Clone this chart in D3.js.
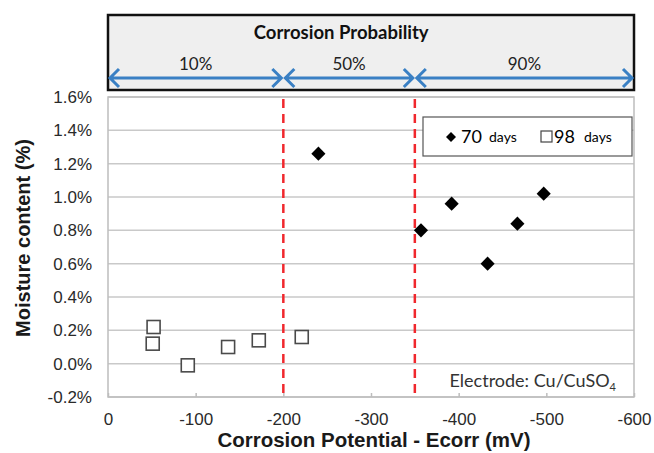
<!DOCTYPE html>
<html>
<head>
<meta charset="utf-8">
<script src="https://cdn.jsdelivr.net/npm/d3@7"></script>
<style>
  body { margin: 0; background: #fff; }
  svg { display: block; }
</style>
</head>
<body>
<svg width="654" height="453"></svg>
<script>
var canvas = d3.select("svg");

var margin = { top: 97, right: 20, bottom: 56, left: 108 };
var iInnerWidth = 634 - margin.left;
var iInnerHeight = 397 - margin.top;

// data
var days70X = [-240, -357, -392, -433, -467, -497];
var days70Y = [1.26, 0.80, 0.96, 0.60, 0.84, 1.02];
var days98X = [-52, -51, -91, -137, -172, -221];
var days98Y = [0.22, 0.12, -0.01, 0.10, 0.14, 0.16];
var yTicks = [-0.2, 0, 0.2, 0.4, 0.6, 0.8, 1.0, 1.2, 1.4, 1.6];
var xTicks = [0, -100, -200, -300, -400, -500, -600];
var zoneBounds = [0, -200, -350, -600];
var zoneLabels = ["10%", "50%", "90%"];

var colorGrid = "#c9c9c9";
var colorRed = "#f0282d";
var colorBlue = "#3a80c4";
var arial = "Liberation Sans, Arial, sans-serif";
var calibri = "Lato, sans-serif";

var xScale = d3.scaleLinear().domain([0, -600]).range([0, iInnerWidth]);
var yScale = d3.scaleLinear().domain([-0.2, 1.6]).range([iInnerHeight, 0]);

var parentGroup = canvas.append("g")
    .attr("transform", `translate(${margin.left},${margin.top})`);

// gridlines
parentGroup.append("g")
    .selectAll("line")
    .data(yTicks)
    .enter()
    .append("line")
    .attr("x1", 0)
    .attr("x2", iInnerWidth)
    .attr("y1", d => yScale(d))
    .attr("y2", d => yScale(d))
    .attr("stroke", colorGrid)
    .attr("stroke-width", 1.5);

// plot frame
parentGroup.append("rect")
    .attr("width", iInnerWidth)
    .attr("height", iInnerHeight)
    .attr("fill", "none")
    .attr("stroke", "#bdbdbd")
    .attr("stroke-width", 1.5);

// y axis
var yAxis = parentGroup.append("g")
    .call(d3.axisLeft(yScale).tickValues(yTicks).tickSize(0).tickPadding(16)
        .tickFormat(d => (d < 0 ? "-" : "") + Math.abs(d).toFixed(1) + "%"));
yAxis.select(".domain").remove();
yAxis.attr("font-family", arial).attr("font-size", 17);
yAxis.selectAll("text").attr("fill", "#2a2a2a");

// x axis
var xAxis = parentGroup.append("g")
    .attr("transform", `translate(0,${iInnerHeight})`)
    .call(d3.axisBottom(xScale).tickValues(xTicks).tickSize(-4).tickPadding(16)
        .tickFormat(d => String(d)));
xAxis.select(".domain").remove();
xAxis.attr("font-family", arial).attr("font-size", 17);
xAxis.selectAll("line").attr("stroke", "#bdbdbd").attr("stroke-width", 1.5);
xAxis.selectAll("text").attr("fill", "#2a2a2a");

// red dashed zone boundaries
parentGroup.append("g")
    .selectAll("line")
    .data(zoneBounds.slice(1, 3))
    .enter()
    .append("line")
    .attr("x1", d => xScale(d))
    .attr("x2", d => xScale(d))
    .attr("y1", 2)
    .attr("y2", iInnerHeight)
    .attr("stroke", colorRed)
    .attr("stroke-width", 2.5)
    .attr("stroke-dasharray", "9,6");

// 98 days squares
parentGroup.append("g")
    .selectAll("rect")
    .data(days98X)
    .enter()
    .append("rect")
    .attr("x", d => xScale(d) - 6.5)
    .attr("y", (d, i) => yScale(days98Y[i]) - 6.5)
    .attr("width", 13)
    .attr("height", 13)
    .attr("fill", "#fff")
    .attr("stroke", "#4a4a4a")
    .attr("stroke-width", 1.6);

// 70 days diamonds
var diamond = d3.symbol().type(d3.symbolSquare).size(100);
parentGroup.append("g")
    .selectAll("path")
    .data(days70X)
    .enter()
    .append("path")
    .attr("d", diamond)
    .attr("transform", (d, i) => `translate(${xScale(d)},${yScale(days70Y[i])}) rotate(45)`)
    .attr("fill", "#000");

// legend
var legend = parentGroup.append("g").attr("transform", "translate(315,20)");
legend.append("rect")
    .attr("width", 209)
    .attr("height", 39)
    .attr("fill", "#fff")
    .attr("stroke", "#555")
    .attr("stroke-width", 1.2);
legend.append("path")
    .attr("d", d3.symbol().type(d3.symbolSquare).size(50))
    .attr("transform", "translate(28,20) rotate(45)")
    .attr("fill", "#000");
legend.append("text").attr("x", 38).attr("y", 26)
    .attr("font-family", calibri).attr("font-size", 18).text("70");
legend.append("text").attr("x", 66).attr("y", 25)
    .attr("font-family", calibri).attr("font-size", 14).text("days");
legend.append("rect")
    .attr("x", 118).attr("y", 14).attr("width", 11).attr("height", 11)
    .attr("fill", "#fff").attr("stroke", "#444").attr("stroke-width", 1.2);
legend.append("text").attr("x", 131).attr("y", 26)
    .attr("font-family", calibri).attr("font-size", 18).text("98");
legend.append("text").attr("x", 161).attr("y", 25)
    .attr("font-family", calibri).attr("font-size", 14).text("days");

// electrode note
var note = parentGroup.append("text")
    .attr("x", iInnerWidth - 18)
    .attr("y", iInnerHeight - 10)
    .attr("text-anchor", "end")
    .attr("font-family", calibri)
    .attr("font-size", 18)
    .attr("fill", "#333");
note.append("tspan").text("Electrode: Cu/CuSO");
note.append("tspan").attr("font-size", 11).attr("dy", 4).text("4");

// axis titles
canvas.append("text")
    .attr("transform", `translate(30,${margin.top + iInnerHeight / 2 - 9}) rotate(-90)`)
    .attr("text-anchor", "middle")
    .attr("font-family", arial)
    .attr("font-weight", "bold")
    .attr("font-size", 20)
    .attr("fill", "#1a1a1a")
    .text("Moisture content (%)");

canvas.append("text")
    .attr("x", margin.left + iInnerWidth / 2 + 3)
    .attr("y", 447)
    .attr("text-anchor", "middle")
    .attr("font-family", arial)
    .attr("font-weight", "bold")
    .attr("font-size", 20.5)
    .attr("fill", "#1a1a1a")
    .text("Corrosion Potential - Ecorr (mV)");

// corrosion probability box
var topBox = canvas.append("g").attr("transform", `translate(${margin.left},15)`);
topBox.append("rect")
    .attr("width", iInnerWidth)
    .attr("height", 75)
    .attr("fill", "#efefef")
    .attr("stroke", "#111")
    .attr("stroke-width", 2.5);
topBox.append("text")
    .attr("x", xScale(-266))
    .attr("y", 24)
    .attr("text-anchor", "middle")
    .attr("font-family", calibri)
    .attr("font-weight", "bold")
    .attr("font-size", 18.5)
    .attr("fill", "#111")
    .text("Corrosion Probability");

var zones = zoneLabels.map((l, i) => ({ label: l, from: zoneBounds[i], to: zoneBounds[i + 1] }));
topBox.selectAll(".zoneLabel")
    .data(zones)
    .enter()
    .append("text")
    .attr("x", d => xScale((d.from + d.to) / 2))
    .attr("y", 55)
    .attr("text-anchor", "middle")
    .attr("font-family", calibri)
    .attr("font-size", 17)
    .attr("fill", "#222")
    .text(d => d.label);

var arrowY = 63;
var head = 9;
zones.forEach(function (d) {
    var x1 = xScale(d.from) + 2, x2 = xScale(d.to) - 2;
    topBox.append("path")
        .attr("d", `M${x1},${arrowY}H${x2}` +
            `M${x1 + head},${arrowY - head}L${x1},${arrowY}L${x1 + head},${arrowY + head}` +
            `M${x2 - head},${arrowY - head}L${x2},${arrowY}L${x2 - head},${arrowY + head}`)
        .attr("fill", "none")
        .attr("stroke", colorBlue)
        .attr("stroke-width", 3);
});
</script>
</body>
</html>
